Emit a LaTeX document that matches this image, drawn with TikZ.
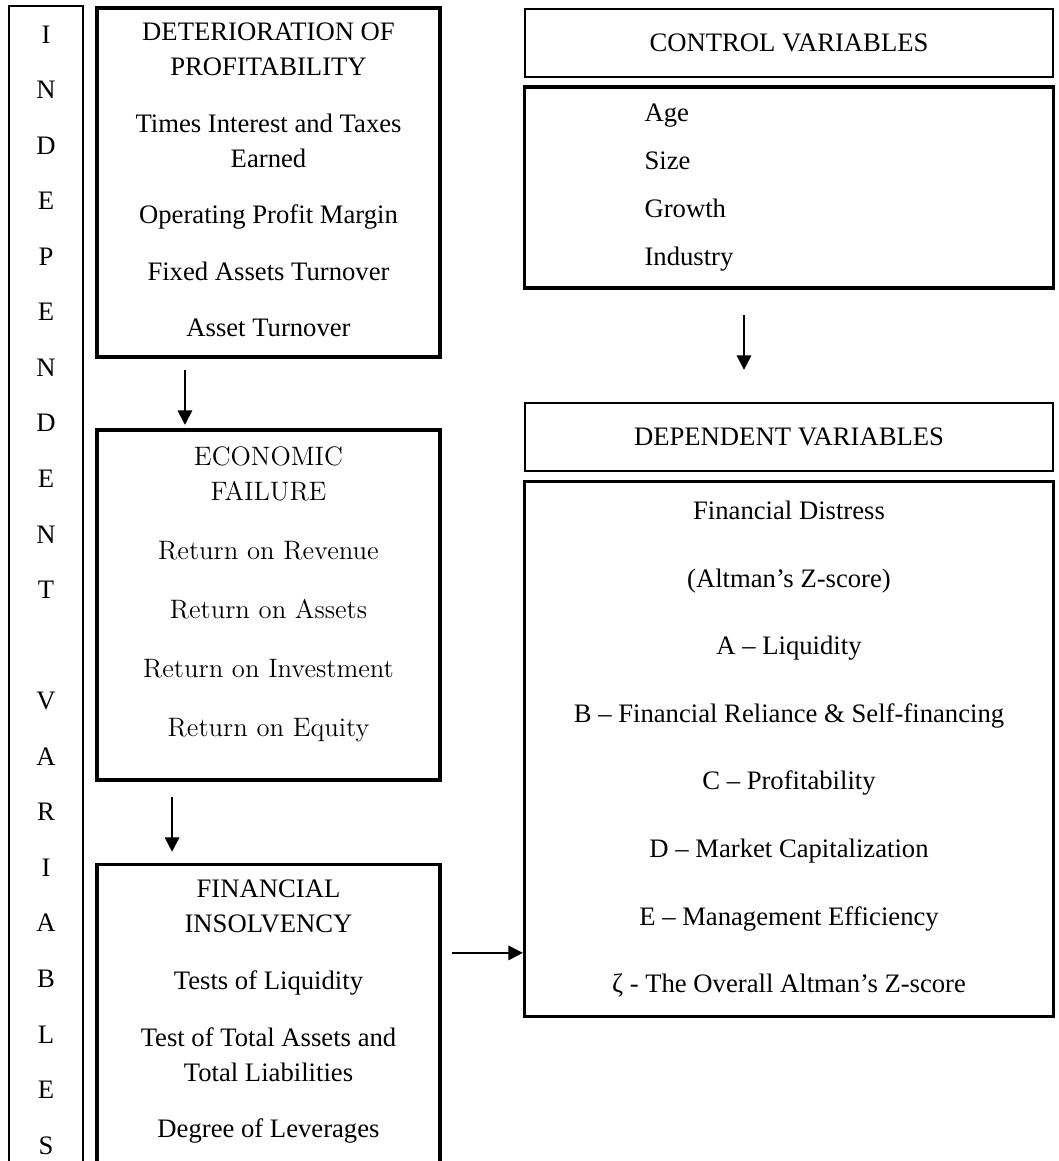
\documentclass[tikz,border=0pt]{standalone}
\usepackage{fontspec}
\newfontfamily\timesfont{Liberation Serif}
\usetikzlibrary{arrows.meta, positioning}

\begin{document}
\begin{tikzpicture}[
    x=0.45pt, y=-0.45pt,
    every node/.style={font=\timesfont\fontsize{12pt}{15.75pt}\selectfont, align=center},
    frame/.style={draw, line width=1.5pt, minimum width=154.35pt},
    headbox/.style={draw, line width=0.9pt, minimum width=238pt, minimum height=30.6pt},
    listbox/.style={draw, line width=1.5pt, minimum width=238pt},
    boxtext/.style={inner sep=0pt},
    arr/.style={-{Triangle[length=6.5pt, width=6.5pt]}, line width=0.8pt},
  ]
  \path[use as bounding box, fill=white] (0,0) rectangle (1058,1161);

  % independent variables column
  \node[draw, line width=1pt, minimum width=33.3pt, minimum height=525.6pt,
        font=\timesfont\fontsize{12pt}{25pt}\selectfont] (indep) at (46,590)
    {I\\N\\D\\E\\P\\E\\N\\D\\E\\N\\T\\[25pt]V\\A\\R\\I\\A\\B\\L\\E\\S};

  % left column
  \node[frame, minimum height=157.05pt] (det) at (268.5,182.5) {};
  \node[frame, minimum height=157.5pt, below=31.3pt of det] (eco) {};
  \node[frame, minimum height=150.75pt, below=36.7pt of eco] (fin) {};

  \node[boxtext, below=7.25pt of det.north] (dettext)
    {DETERIORATION OF\\PROFITABILITY\\[9.7pt]Times Interest and Taxes\\Earned\\[9.7pt]%
     Operating Profit Margin\\[9.7pt]Fixed Assets Turnover\\[9.7pt]Asset Turnover};
  \node[boxtext, below=8.3pt of eco.north,
        font=\rmfamily\fontsize{12pt}{15.75pt}\selectfont] (ecotext)
    {ECONOMIC\\FAILURE\\[10.8pt]Return on Revenue\\[10.8pt]Return on Assets\\[10.8pt]%
     Return on Investment\\[10.8pt]Return on Equity};
  \node[boxtext, below=7.5pt of fin.north] (fintext)
    {FINANCIAL\\INSOLVENCY\\[9.7pt]Tests of Liquidity\\[9.7pt]Test of Total Assets and\\%
     Total Liabilities\\[9.7pt]Degree of Leverages};

  % right column
  \node[headbox] (ctrlhead) at (789,43) {CONTROL VARIABLES};
  \node[listbox, minimum height=90.45pt, below=3.3pt of ctrlhead, align=left,
        text width=130pt, inner xsep=54pt,
        font=\timesfont\fontsize{12pt}{21.5pt}\selectfont] (ctrl)
    {Age\\Size\\Growth\\Industry};
  \node[headbox, below=50.5pt of ctrl] (dephead) {DEPENDENT VARIABLES};
  \node[listbox, minimum height=240.75pt, below=3.7pt of dephead,
        font=\timesfont\fontsize{12pt}{30.4pt}\selectfont] (dep)
    {Financial Distress\\(Altman’s Z-score)\\A – Liquidity\\B – Financial Reliance \& Self-financing\\%
     C – Profitability\\D – Market Capitalization\\E – Management Efficiency\\ζ - The Overall Altman’s Z-score};

  \draw[arr, shorten <=5.1pt, shorten >=1.5pt] ([xshift=-37.6pt]det.south) -- ([xshift=-37.6pt]eco.north);
  \draw[arr, shorten <=6.9pt, shorten >=5.1pt] ([xshift=-43.4pt]eco.south) -- ([xshift=-43.4pt]fin.north);
  \draw[arr, shorten <=11.4pt, shorten >=14.4pt] ([xshift=-20.25pt]ctrl.south) -- ([xshift=-20.25pt]dephead.north);
  \coordinate (finout) at ([xshift=4.6pt, yshift=-40.4pt]fin.north east);
  \draw[arr] (finout) -- (finout -| dep.west);
\end{tikzpicture}
\end{document}
